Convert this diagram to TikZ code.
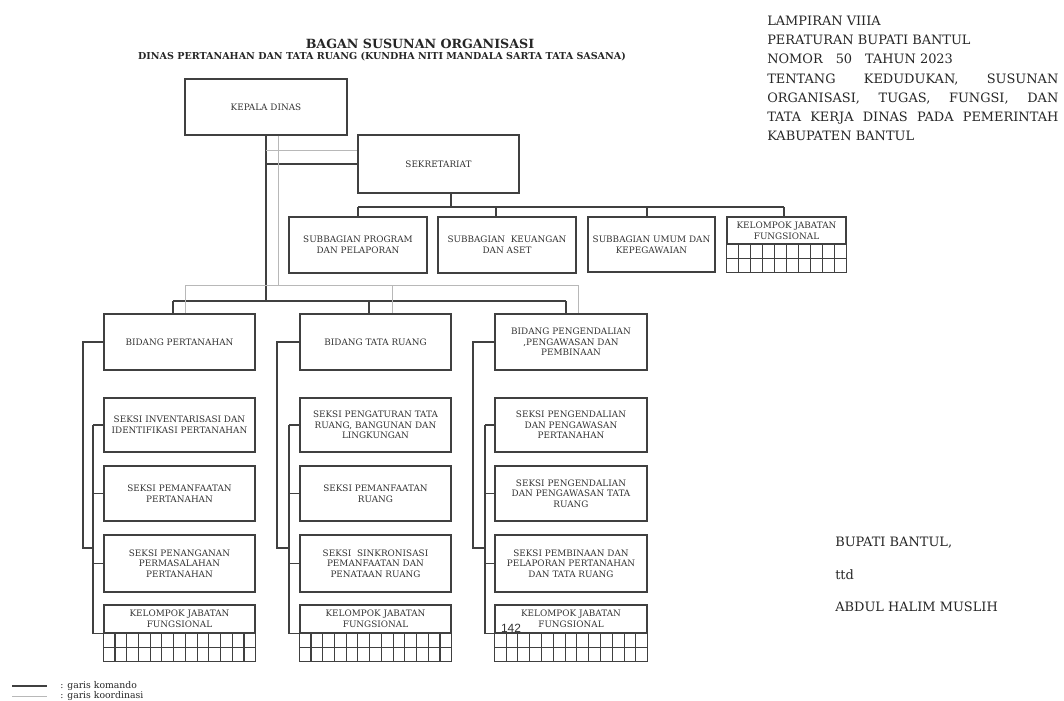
\documentclass[tikz,border=0pt]{standalone}
\usepackage{fontspec}
\setmainfont{DejaVu Serif}
\setsansfont{Liberation Sans}
\usetikzlibrary{calc,positioning}

\newcommand{\boxfont}{\fontsize{6.3}{7.6}\selectfont}
\newcommand{\hdrfont}{\fontsize{9.2}{13.6}\selectfont}
\newcommand{\titlefont}{\bfseries\fontsize{9}{10}\selectfont}
\newcommand{\subtitlefont}{\bfseries\fontsize{6.8}{8}\selectfont}
\newcommand{\notefont}{\fontsize{6.6}{7.5}\selectfont}

\begin{document}
\begin{tikzpicture}[x=0.025cm, y=-0.025cm,
    boxsize/.style 2 args={minimum width=#1*0.025cm, minimum height=#2*0.025cm},
    orgbox/.style={draw=black!75, line width=1pt, align=center, font=\boxfont,
        text=black!80, inner sep=1pt},
    cmd/.style={draw=black!75, line width=0.9pt},
    koord/.style={draw=black!28, line width=0.6pt},
    cell/.style={draw=black!75, line width=0.8pt},
    note/.style={inner sep=0pt, anchor=west, text=black!85}
]
\useasboundingbox (0,0) rectangle (1064,700);

% --- judul ---
\node[font=\titlefont, text=black!85] (judul) at (420,44) {BAGAN SUSUNAN ORGANISASI};
\node[font=\subtitlefont, text=black!85] (subjudul) at (382,57)
    {DINAS PERTANAHAN DAN TATA RUANG (KUNDHA NITI MANDALA SARTA TATA SASANA)};

% --- lampiran ---
\node[anchor=north west, text width=7.275cm, align=justify, font=\hdrfont,
      inner sep=0pt, text=black!85] (lampiran) at (767,16)
    {LAMPIRAN VIIIA\\
     PERATURAN BUPATI BANTUL\\
     NOMOR\quad 50\quad TAHUN 2023\\
     TENTANG KEDUDUKAN, SUSUNAN\linebreak
     ORGANISASI, TUGAS, FUNGSI, DAN\linebreak
     TATA KERJA DINAS PADA PEMERINTAH\linebreak
     KABUPATEN BANTUL};

% --- pimpinan dan sekretariat ---
\node[orgbox, boxsize={162}{56}] (kepala) at (266,107) {KEPALA DINAS};
\node[orgbox, boxsize={161}{58}] (sekre) at (438.5,164) {SEKRETARIAT};
\node[orgbox, boxsize={138}{56}] (sub1) at (358,245) {SUBBAGIAN PROGRAM\\DAN PELAPORAN};
\node[orgbox, boxsize={138}{56}] (sub2) at (507,245) {SUBBAGIAN\ \ KEUANGAN\\DAN ASET};
\node[orgbox, boxsize={127}{55}] (sub3) at (651.5,244.5) {SUBBAGIAN UMUM DAN\\KEPEGAWAIAN};
\node[orgbox, boxsize={119}{27}] (kjf0) at (786.5,230.5) {KELOMPOK JABATAN\\FUNGSIONAL};

% --- bidang ---
\node[orgbox, boxsize={151}{56}] (bid1) at (179.5,342) {BIDANG PERTANAHAN};
\node[orgbox, boxsize={151}{56}] (bid2) at (375.5,342) {BIDANG TATA RUANG};
\node[orgbox, boxsize={152}{56}] (bid3) at (571,342) {BIDANG PENGENDALIAN\\,PENGAWASAN DAN\\PEMBINAAN};

% --- seksi bidang pertanahan ---
\node[orgbox, boxsize={151}{54}] (sek11) at (179.5,425) {SEKSI INVENTARISASI DAN\\IDENTIFIKASI PERTANAHAN};
\node[orgbox, boxsize={151}{55}] (sek12) at (179.5,493.5) {SEKSI PEMANFAATAN\\PERTANAHAN};
\node[orgbox, boxsize={151}{57}] (sek13) at (179.5,563.5) {SEKSI PENANGANAN\\PERMASALAHAN\\PERTANAHAN};
\node[orgbox, boxsize={151}{28}] (kjf1) at (179.5,619) {KELOMPOK JABATAN\\FUNGSIONAL};

% --- seksi bidang tata ruang ---
\node[orgbox, boxsize={151}{54}] (sek21) at (375.5,425) {SEKSI PENGATURAN TATA\\RUANG, BANGUNAN DAN\\LINGKUNGAN};
\node[orgbox, boxsize={151}{55}] (sek22) at (375.5,493.5) {SEKSI PEMANFAATAN\\RUANG};
\node[orgbox, boxsize={151}{57}] (sek23) at (375.5,563.5) {SEKSI\ \ SINKRONISASI\\PEMANFAATAN DAN\\PENATAAN RUANG};
\node[orgbox, boxsize={151}{28}] (kjf2) at (375.5,619) {KELOMPOK JABATAN\\FUNGSIONAL};

% --- seksi bidang pengendalian ---
\node[orgbox, boxsize={152}{54}] (sek31) at (571,425) {SEKSI PENGENDALIAN\\DAN PENGAWASAN\\PERTANAHAN};
\node[orgbox, boxsize={152}{55}] (sek32) at (571,493.5) {SEKSI PENGENDALIAN\\DAN PENGAWASAN TATA\\RUANG};
\node[orgbox, boxsize={152}{57}] (sek33) at (571,563.5) {SEKSI PEMBINAAN DAN\\PELAPORAN PERTANAHAN\\DAN TATA RUANG};
\node[orgbox, boxsize={152}{28}] (kjf3) at (571,619) {KELOMPOK JABATAN\\FUNGSIONAL};

% --- kotak jabatan fungsional ---
\foreach \k/\n in {kjf0/10, kjf1/13, kjf2/13, kjf3/13} {
    \draw[cell] (\k.south west) rectangle ($(\k.south east)+(0,27.5)$);
    \draw[cell] ($(\k.south west)+(0,14)$) -- ($(\k.south east)+(0,14)$);
    \foreach \i in {1,...,12} {
        \ifnum\i<\n\relax
            \draw[cell] ($(\k.south west)!\i/\n!(\k.south east)$) -- ++(0,27.5);
        \fi
    }
}

% --- garis komando ---
\coordinate (d1) at (173,301);
\coordinate (d2) at (369,301);
\coordinate (d3) at (566,301);
\draw[cmd] (kepala.south) -- (kepala.south |- d1);
\draw[cmd] (kepala.south |- sekre.west) -- (sekre.west);
\draw[cmd] (d1) -- (d3);
\foreach \i in {1,2,3}
    \draw[cmd] (d\i) -- (d\i |- bid\i.north);

\coordinate (s0) at (451,207);
\coordinate (sa) at (358,207);
\coordinate (sb) at (496,207);
\coordinate (sc) at (647,207);
\coordinate (sd) at (784,207);
\draw[cmd] (s0 |- sekre.south) -- (s0);
\draw[cmd] (sa) -- (sd);
\draw[cmd] (sa) -- (sa |- sub1.north);
\draw[cmd] (sb) -- (sb |- sub2.north);
\draw[cmd] (sc) -- (sc |- sub3.north);
\draw[cmd] (sd) -- (sd |- kjf0.north);

\foreach \c/\ox/\ix in {1/83/93, 2/277/289, 3/473/485} {
    \coordinate (ox\c) at (\ox,548);
    \coordinate (sp\c) at (\ix,548);
    \draw[cmd] (bid\c.west) -| (ox\c) -- (sp\c);
    \draw[cmd] (sp\c |- sek\c1.west) -- (sp\c |- kjf\c.south west);
    \foreach \r in {1,2,3}
        \draw[cmd] (sp\c |- sek\c\r.west) -- (sek\c\r.west);
    \draw[cmd] (sp\c |- kjf\c.south west) -- (kjf\c.south west);
}

% --- garis koordinasi ---
\coordinate (k1) at (185,285);
\coordinate (k2) at (392,285);
\coordinate (k3) at (578,285);
\coordinate (kv) at (278,285);
\coordinate (ks) at (266,150);
\draw[koord] (kv |- kepala.south) -- (kv);
\draw[koord] (ks) -- (ks -| sekre.west);
\draw[koord] (k1) -- (k3);
\foreach \i in {1,2,3}
    \draw[koord] (k\i) -- (k\i |- bid\i.north);

% --- pengesahan ---
\node[note, font=\hdrfont] (bupati) at (835,543) {BUPATI BANTUL,};
\node[note, font=\hdrfont] (ttd) at (835,575) {ttd};
\node[note, font=\hdrfont] (nama) at (835,607) {ABDUL HALIM MUSLIH};

\node[font=\sffamily\fontsize{8.5}{10}\selectfont, text=black!80] (hal) at (511,628) {142};

% --- keterangan ---
\node[note, font=\notefont] (lgk) at (60,686) {: garis komando};
\node[note, font=\notefont] (lgd) at (60,696) {: garis koordinasi};
\draw[cmd] ([xshift=-48*0.025cm]lgk.west) -- ([xshift=-13*0.025cm]lgk.west);
\draw[koord] ([xshift=-48*0.025cm]lgd.west) -- ([xshift=-13*0.025cm]lgd.west);
\end{tikzpicture}
\end{document}
